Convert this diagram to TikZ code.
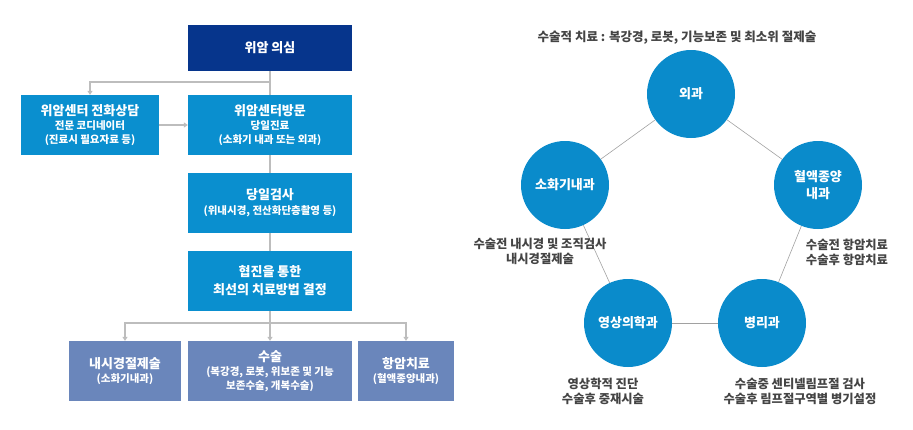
\documentclass[tikz,border=0pt]{standalone}
\usepackage{fontspec}
\setmainfont{Noto Sans CJK KR}
\usetikzlibrary{arrows.meta}
\definecolor{navy}{HTML}{06358C}
\definecolor{skyb}{HTML}{0A8FCF}
\definecolor{slate}{HTML}{6A86BB}
\definecolor{circ}{HTML}{0A8BCB}
\definecolor{conn}{HTML}{BDBDBD}
\definecolor{txt}{HTML}{444444}
\tikzset{
  flowbox/.style={rectangle, inner sep=0pt, align=center, text=white,
    font=\bfseries\fontsize{10.5}{14}\selectfont},
  navybox/.style={flowbox, fill=navy},
  bluebox/.style={flowbox, fill=skyb},
  slatebox/.style={flowbox, fill=slate},
  dept/.style={circle, fill=circ, minimum size=88pt, inner sep=0pt, align=center,
    text=white, font=\bfseries\fontsize{13}{17}\selectfont},
  conline/.style={draw=conn, line width=1.3pt},
  conarrow/.style={conline, -{Triangle[width=5pt,length=4pt]}},
  linkline/.style={draw=conn!85!black, line width=0.6pt},
  note/.style={align=center, text=txt, font=\bfseries\fontsize{12.3}{15}\selectfont},
}
\newcommand{\mainline}[1]{{\bfseries\fontsize{13}{14}\selectfont #1}}
\begin{document}
\begin{tikzpicture}[x=1pt,y=-1pt]
\useasboundingbox (0,0) rectangle (913,429);
% left flowchart
\node[navybox, minimum width=164pt, minimum height=46pt] (top) at (270,48) {\mainline{위암 의심}};
\node[bluebox, minimum width=138pt, minimum height=60pt] (call) at (90,125)
  {\mainline{위암센터 전화상담}\\전문 코디네이터\\(진료시 필요자료 등)};
\node[bluebox, minimum width=164pt, minimum height=60pt] (visit) at (270,125)
  {\mainline{위암센터방문}\\당일진료\\(소화기 내과 또는 외과)};
\node[bluebox, minimum width=164pt, minimum height=60pt] (test) at (270,203)
  {\mainline{당일검사}\\[1pt](위내시경, 전산화단층촬영 등)};
\node[bluebox, minimum width=164pt, minimum height=60pt] (decide) at (270,281)
  {\mainline{협진을 통한}\\[4pt]\mainline{최선의 치료방법 결정}};
\node[slatebox, minimum width=112pt, minimum height=60pt] (endo) at (125,371)
  {\mainline{내시경절제술}\\(소화기내과)};
\node[slatebox, minimum width=164pt, minimum height=60pt] (surg) at (270,371)
  {\mainline{수술}\\(복강경, 로봇, 위보존 및 기능\\보존수술, 개복수술)};
\node[slatebox, minimum width=96pt, minimum height=60pt] (chemo) at (406,371)
  {\mainline{항암치료}\\(혈액종양내과)};
\coordinate (b1) at (270,82);
\coordinate (b2) at (270,323);
\draw[conline] (top.south) -- (visit.north);
\draw[conarrow] (b1) -| (call.north);
\draw[conarrow] (call.east) -- (visit.west);
\draw[conline] (visit.south) -- (test.north);
\draw[conline] (test.south) -- (decide.north);
\draw[conline] (decide.south) -- (b2);
\draw[conarrow] (b2) -- (surg.north);
\draw[conarrow] (b2) -| (endo.north);
\draw[conarrow] (b2) -| (chemo.north);
% right diagram
\node[text=txt, font=\bfseries\fontsize{12.5}{14}\selectfont] (title) at (677,38)
  {수술적 치료 : 복강경, 로봇, 기능보존 및 최소위 절제술};
\node[dept] (surgery) at (691,94) {외과};
\node[dept] (gastro) at (565,185) {소화기내과};
\node[dept] (hemato) at (818,185) {혈액종양\\내과};
\node[dept] (radio) at (628,323) {영상의학과};
\node[dept] (patho) at (762,323) {병리과};
\draw[linkline] (surgery) -- (gastro);
\draw[linkline] (surgery) -- (hemato);
\draw[linkline] (gastro) -- (radio);
\draw[linkline] (hemato) -- (patho);
\draw[linkline] (radio) -- (patho);
\node[note] (ngastro) at (540,251) {수술전 내시경 및 조직검사\\내시경절제술};
\node[note] (nhemato) at (847,252) {수술전 항암치료\\수술후 항암치료};
\node[note] (nradio) at (603,391) {영상학적 진단\\수술후 중재시술};
\node[note] (npatho) at (800,391) {수술중 센티넬림프절 검사\\수술후 림프절구역별 병기설정};
\end{tikzpicture}
\end{document}
